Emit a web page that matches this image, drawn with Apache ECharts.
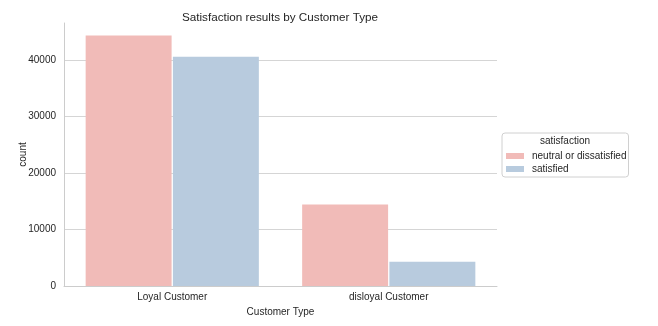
<!DOCTYPE html>
<html>
<head>
<meta charset="utf-8">
<script src="https://cdn.jsdelivr.net/npm/echarts@6/dist/echarts.min.js"></script>
<style>
  html, body { margin: 0; padding: 0; background: #fff; }
  #chart { width: 658px; height: 326px; }
</style>
</head>
<body>
<div id="chart"></div>
<script>
// Passenger counts per customer type, split by satisfaction outcome
const customerTypes = ['Loyal Customer', 'disloyal Customer'];
const neutralOrDissatisfied = [44400, 14450];
const satisfied = [40600, 4300];
const yTicks = [0, 10000, 20000, 30000, 40000];

const FONT = '"Liberation Sans", Arial, sans-serif';
const TEXT = '#262626';

const chart = echarts.init(document.getElementById('chart'));
chart.setOption({
  animation: false,
  textStyle: { fontFamily: FONT },
  title: [
    {
      text: 'Satisfaction results by Customer Type',
      left: 280, top: 12, padding: 0, textAlign: 'center',
      textStyle: { fontSize: 11.7, fontWeight: 'normal', color: TEXT, fontFamily: FONT }
    },
    {
      text: 'satisfaction',
      left: 565, top: 136, padding: 0, textAlign: 'center',
      textStyle: { fontSize: 10, fontWeight: 'normal', color: TEXT, fontFamily: FONT }
    }
  ],
  legend: {
    orient: 'vertical',
    left: 502, top: 133,
    padding: [18, 2, 3, 4],
    borderColor: '#d0d0d0', borderWidth: 1, borderRadius: 3,
    itemWidth: 18, itemHeight: 6, itemGap: 3,
    icon: 'rect',
    textStyle: { fontSize: 10, color: TEXT, fontFamily: FONT, padding: [0, 0, 0, 3] },
    data: ['neutral or dissatisfied', 'satisfied']
  },
  grid: { left: 64, right: 161, top: 23, bottom: 40, containLabel: false },
  xAxis: {
    type: 'category',
    data: customerTypes,
    name: 'Customer Type',
    nameLocation: 'middle',
    nameGap: 18,
    nameTextStyle: { fontSize: 10, color: TEXT, fontFamily: FONT },
    axisLine: { show: true, lineStyle: { color: '#cccccc', width: 1 } },
    axisTick: { show: false },
    axisLabel: { fontSize: 10, color: TEXT, margin: 6, fontFamily: FONT },
    splitLine: { show: false }
  },
  yAxis: {
    type: 'value',
    min: yTicks[0],
    max: 46600,
    interval: yTicks[1] - yTicks[0],
    name: 'count',
    nameLocation: 'middle',
    nameGap: 36,
    nameMoveOverlap: false,
    nameTextStyle: { fontSize: 10, color: TEXT, fontFamily: FONT },
    axisLine: { show: true, lineStyle: { color: '#cccccc', width: 1 } },
    axisTick: { show: false },
    axisLabel: {
      fontSize: 10, color: TEXT, margin: 8, fontFamily: FONT,
      showMaxLabel: false,
      formatter: v => (yTicks.includes(v) ? String(v) : '')
    },
    splitLine: {
      show: true, showMinLine: false, showMaxLine: false,
      lineStyle: { color: '#d5d5d5', width: 1 }
    }
  },
  series: [
    {
      name: 'neutral or dissatisfied',
      type: 'bar',
      data: neutralOrDissatisfied,
      barGap: '1.5%',
      barCategoryGap: '20%',
      itemStyle: { color: '#f1bbb8' }
    },
    {
      name: 'satisfied',
      type: 'bar',
      data: satisfied,
      barGap: '1.5%',
      barCategoryGap: '20%',
      itemStyle: { color: '#b8cbde' }
    }
  ]
});
</script>
</body>
</html>
